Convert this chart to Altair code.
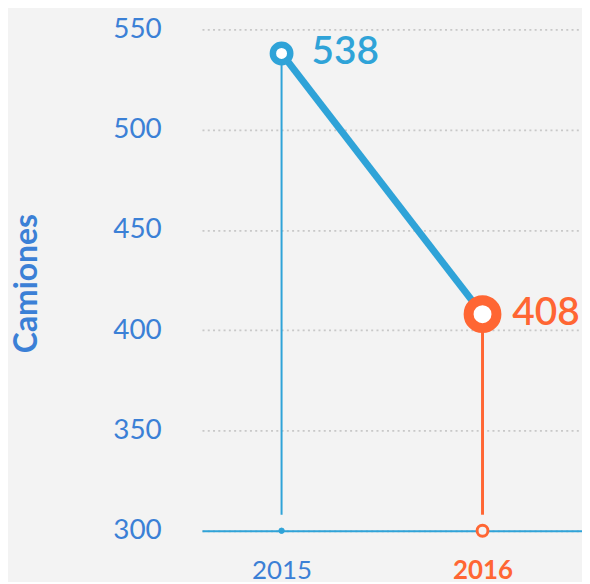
import altair as alt
import pandas as pd

years = [2015, 2016]
values = [538, 408]
labels = ["538", "408"]
stem_base = [308, 308]
axis_base = [300, 300]
y_ticks = [300, 350, 400, 450, 500, 550]

BLUE = "#2fa3d8"
ORANGE = "#ff6633"
AXBLUE = "#3b80d6"
BG = "#f3f3f3"

df = pd.DataFrame({
    "year": years,
    "value": values,
    "label": labels,
    "base": stem_base,
    "axis": axis_base,
})

xscale = alt.Scale(domain=[2014.604, 2016.495], nice=False, zero=False)
yscale = alt.Scale(domain=[300, 550], nice=False, zero=False)

xenc = alt.X(
    "year:Q",
    scale=xscale,
    axis=alt.Axis(
        values=years,
        format="d",
        title=None,
        grid=False,
        ticks=False,
        domain=True,
        domainColor=BLUE,
        domainWidth=2,
        labelFont="Lato",
        labelFontSize=26,
        labelPadding=27,
        labelColor=alt.ExprRef(expr=f"datum.value == 2016 ? '{ORANGE}' : '{AXBLUE}'"),
        labelFontWeight=alt.ExprRef(expr="datum.value == 2016 ? 'bold' : 'normal'"),
    ),
)

yaxis = alt.Axis(
    values=y_ticks,
    title="Camiones",
    titleFont="Lato",
    titleFontSize=32,
    titleFontWeight="bold",
    titleColor=AXBLUE,
    titleAngle=-90,
    titleX=-176,
    titleY=255,
    titleAlign="center",
    titleBaseline="middle",
    labelFont="Lato",
    labelFontSize=28,
    labelColor=AXBLUE,
    labelPadding=41,
    ticks=False,
    domain=False,
    grid=True,
    gridColor="#c8c8c8",
    gridDash=[2, 3.3],
    gridWidth=1.8,
)

color_scale = alt.Scale(domain=years, range=[BLUE, ORANGE])

stems = alt.Chart(df).mark_rule().encode(
    x=xenc,
    y=alt.Y("value:Q", scale=yscale, axis=yaxis),
    y2="base:Q",
    color=alt.Color("year:O", scale=color_scale, legend=None),
    strokeWidth=alt.StrokeWidth("year:O", scale=alt.Scale(domain=years, range=[2, 3]), legend=None),
)

line = alt.Chart(df).mark_line(color=BLUE, strokeWidth=7).encode(
    x="year:Q",
    y="value:Q",
)

points = alt.Chart(df).mark_point(shape="circle", fill="white", filled=False, opacity=1, fillOpacity=1).encode(
    x="year:Q",
    y="value:Q",
    stroke=alt.Stroke("year:O", scale=color_scale, legend=None),
    size=alt.Size("year:O", scale=alt.Scale(domain=years, range=[306, 784]), legend=None),
    strokeWidth=alt.StrokeWidth("year:O", scale=alt.Scale(domain=years, range=[6.5, 10]), legend=None),
)

axis_marks = alt.Chart(df).mark_point(shape="circle", opacity=1, fillOpacity=1, filled=False).encode(
    x="year:Q",
    y="axis:Q",
    stroke=alt.Stroke("year:O", scale=color_scale, legend=None),
    fill=alt.Fill("year:O", scale=alt.Scale(domain=years, range=[BLUE, BG]), legend=None),
    size=alt.Size("year:O", scale=alt.Scale(domain=years, range=[30, 120]), legend=None),
    strokeWidth=alt.StrokeWidth("year:O", scale=alt.Scale(domain=years, range=[1, 3]), legend=None),
)

texts = alt.Chart(df).mark_text(
    align="left", baseline="middle", dx=30, dy=-1, font="Lato", fontSize=39, fontWeight=600
).encode(
    x="year:Q",
    y="value:Q",
    text="label:N",
    color=alt.Color("year:O", scale=color_scale, legend=None),
)

chart = alt.layer(stems, line, points, axis_marks, texts).resolve_scale(
    strokeWidth="independent", size="independent", stroke="independent"
).properties(
    width=382,
    height=504,
    background=BG,
    padding={"left": 195, "top": 20, "right": 0, "bottom": 50},
    autosize=alt.AutoSizeParams(type="none"),
).configure_view(stroke=None)

chart.save("out.html", embed_options={"renderer": "svg", "actions": False})
